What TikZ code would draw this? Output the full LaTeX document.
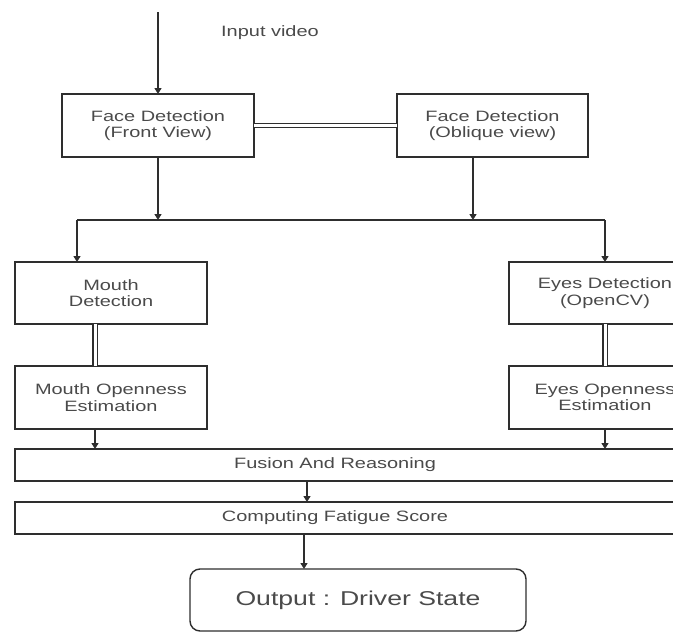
\documentclass[tikz,border=0pt]{standalone}
\usepackage{fontspec}
\setmainfont{Liberation Sans}[FakeStretch=1.33]
\usetikzlibrary{arrows.meta}
\definecolor{ln}{HTML}{2e2e2e}
\definecolor{tx}{HTML}{4a4a4a}
\begin{document}
\begin{tikzpicture}[x=1pt,y=-1pt,
  box/.style={draw=ln,line width=1.4pt,inner sep=0pt,outer sep=0pt,align=center,text=tx,font=\fontsize{15}{16.5}\selectfont},
  lbl/.style={text=tx,inner sep=0pt,font=\fontsize{15}{16.5}\selectfont},
  arr/.style={draw=ln,line width=1.4pt,-{Triangle[width=7pt,length=6pt]}},
  dbl/.style={draw=ln,double,double distance=3pt,line width=1.1pt}]
\useasboundingbox (0,0) rectangle (673,632);
% boxes
\node[box,minimum width=192pt,minimum height=63pt] (front) at (158,125.5) {Face Detection\\(Front View)};
\node[box,minimum width=191pt,minimum height=63pt] (oblique) at (492.5,125.5) {Face Detection\\(Oblique view)};
\node[box,minimum width=192pt,minimum height=62pt] (mouth) at (111,293) {Mouth\\Detection};
\node[box,minimum width=192pt,minimum height=62pt] (eyes) at (605,293) {Eyes Detection\\(OpenCV)};
\node[box,minimum width=192pt,minimum height=63pt] (mouthopen) at (111,397.5) {Mouth Openness\\Estimation};
\node[box,minimum width=192pt,minimum height=63pt] (eyesopen) at (605,397.5) {Eyes Openness\\Estimation};
\node[box,minimum width=685pt,minimum height=32pt] (fusion) at (357.5,465) {};
\node[lbl] (fusiontxt) at (335,465) {Fusion And Reasoning};
\node[box,minimum width=685pt,minimum height=32pt] (computing) at (357.5,518) {};
\node[lbl] (computingtxt) at (335,518) {Computing Fatigue Score};
\node[box,minimum width=336pt,minimum height=62pt,rounded corners=10pt,font=\fontsize{20}{22}\selectfont] (output) at (358,600) {Output : Driver State};
\node[lbl] (inlabel) at (270,33) {Input video};
% helper coordinates
\coordinate (instart) at (158,12);
\coordinate (splitL) at (77,220);
\coordinate (splitR) at (605,220);
\coordinate (oblx) at (473,0);
\coordinate (mx) at (95,0);
\coordinate (ex) at (605,0);
\coordinate (fx) at (307,0);
\coordinate (cx) at (304,0);
% connectors
\draw[arr] (instart) -- (front.north);
\draw[dbl] (front.east) -- (oblique.west);
\draw[arr] (front.south) -- (front.south |- splitL);
\draw[arr] (oblique.south -| oblx) -- (oblx |- splitL);
\draw[draw=ln,line width=1.4pt] (splitL) -- (splitR);
\draw[arr] (splitL) -- (splitL |- mouth.north);
\draw[arr] (splitR) -- (splitR |- eyes.north);
\draw[dbl] (mouth.south -| mx) -- (mouthopen.north -| mx);
\draw[dbl] (eyes.south -| ex) -- (eyesopen.north -| ex);
\draw[arr] (mouthopen.south -| mx) -- (fusion.north -| mx);
\draw[arr] (eyesopen.south -| ex) -- (fusion.north -| ex);
\draw[arr] (fusion.south -| fx) -- (computing.north -| fx);
\draw[arr] (computing.south -| cx) -- (output.north -| cx);
\end{tikzpicture}
\end{document}
